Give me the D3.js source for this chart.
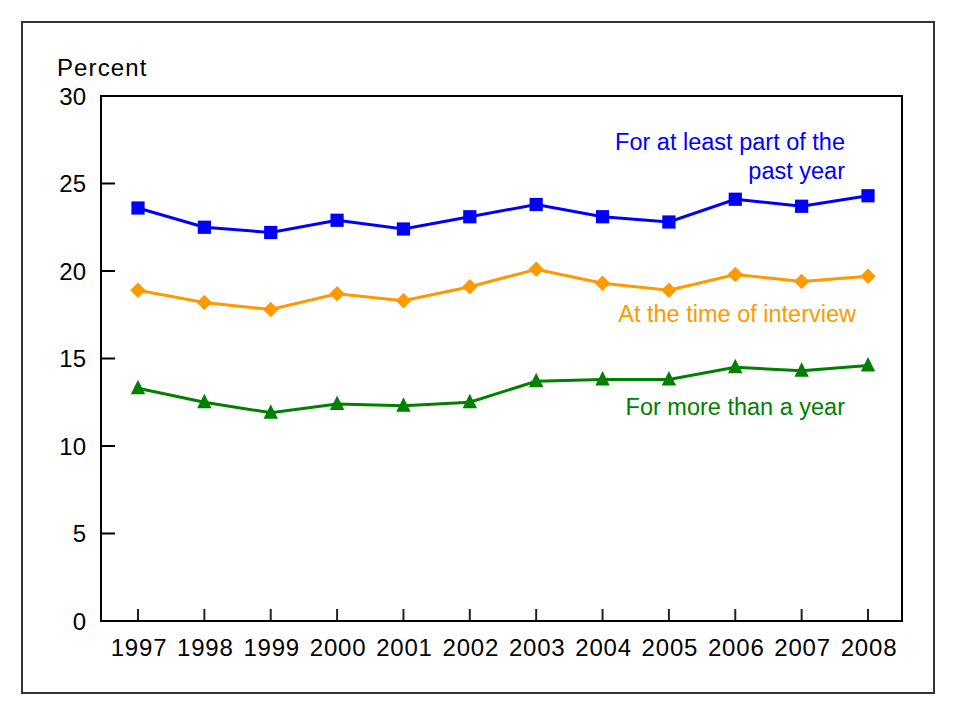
<!DOCTYPE html>
<html><head><meta charset="utf-8">
<script src="https://cdn.jsdelivr.net/npm/d3@7/dist/d3.min.js"></script>
<style>body{margin:0;background:#fff}svg text{font-family:"Liberation Sans",Arial,Helvetica,sans-serif}</style>
</head><body><svg id="c" width="960" height="720"></svg>
<script>
const years = [1997,1998,1999,2000,2001,2002,2003,2004,2005,2006,2007,2008];
const partYear = [23.6,22.5,22.2,22.9,22.4,23.1,23.8,23.1,22.8,24.1,23.7,24.3];
const atInterview = [18.9,18.2,17.8,18.7,18.3,19.1,20.1,19.3,18.9,19.8,19.4,19.7];
const moreThanYear = [13.3,12.5,11.9,12.4,12.3,12.5,13.7,13.8,13.8,14.5,14.3,14.6];
const yTicks = [0,5,10,15,20,25,30];

(function(){
const svg = d3.select("#c");
const pL = 101, pR = 902, pT = 96, pB = 621;
const fs = 23.5;

svg.append("rect").attr("x",22).attr("y",22).attr("width",912).attr("height",671)
  .attr("fill","none").attr("stroke","#333").attr("stroke-width",2);

const x = d3.scalePoint().domain(years).range([138, 868]);
const y = d3.scaleLinear().domain([0,30]).range([pB, pT]);

// y ticks inside the plot
svg.selectAll(".ytick").data(yTicks).enter().append("line")
  .attr("x1",pL).attr("x2",pL+14).attr("y1",d=>y(d)).attr("y2",d=>y(d))
  .attr("stroke","#000").attr("stroke-width",2);
svg.selectAll(".ylab").data(yTicks).enter().append("text")
  .attr("x",86).attr("y",d=>y(d)+8.5).attr("text-anchor","end")
  .attr("font-size",24).attr("fill","#000").text(d=>d);

// x ticks upward inside
svg.selectAll(".xtick").data(years).enter().append("line")
  .attr("x1",d=>x(d)).attr("x2",d=>x(d)).attr("y1",pB).attr("y2",pB-12)
  .attr("stroke","#222").attr("stroke-width",2);
svg.selectAll(".xlab").data(years).enter().append("text")
  .attr("x",d=>x(d)+1).attr("y",656).attr("text-anchor","middle")
  .attr("font-size",24).attr("letter-spacing",0.8).attr("fill","#000").text(d=>d);

svg.append("rect").attr("x",pL).attr("y",pT).attr("width",pR-pL).attr("height",pB-pT)
  .attr("fill","none").attr("stroke","#000").attr("stroke-width",2);

svg.append("text").attr("x",57).attr("y",76).attr("font-size",24)
  .attr("letter-spacing",1.1).attr("fill","#000").text("Percent");

const line = d3.line().x((d,i)=>x(years[i])).y(d=>y(d));
const tri = {draw(ctx){ctx.moveTo(0,-8.5);ctx.lineTo(7.2,6);ctx.lineTo(-7.2,6);ctx.closePath();}};
const series = [
  {vals: partYear, color:"#0000ff", sym:d3.symbolSquare, size:175, rot:0},
  {vals: atInterview, color:"#ff9900", sym:d3.symbolSquare, size:118, rot:45},
  {vals: moreThanYear, color:"#008000", sym:tri, size:64, rot:0}
];
series.forEach(s=>{
  svg.append("path").datum(s.vals).attr("d",line).attr("fill","none")
    .attr("stroke",s.color).attr("stroke-width",3);
  svg.selectAll(null).data(s.vals).enter().append("path")
    .attr("transform",(d,i)=>`translate(${x(years[i])},${y(d)}) rotate(${s.rot})`)
    .attr("d",d3.symbol().type(s.sym).size(s.size)).attr("fill",s.color);
});

const lab = (t,xx,yy,c,anchor)=>svg.append("text").attr("x",xx).attr("y",yy)
  .attr("text-anchor",anchor).attr("font-size",fs).attr("fill",c).text(t);
lab("For at least part of the",845,150,"#0000ff","end");
lab("past year",845,179,"#0000ff","end");
lab("At the time of interview",856,322,"#ff9900","end");
lab("For more than a year",845,415,"#008000","end");
})();
</script></body></html>
